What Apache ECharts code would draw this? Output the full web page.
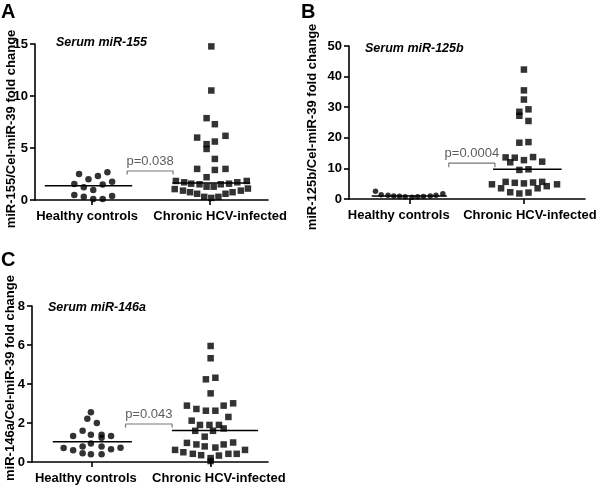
<!DOCTYPE html>
<html>
<head>
<meta charset="utf-8">
<script src="https://cdn.jsdelivr.net/npm/echarts@6/dist/echarts.min.js"></script>
<style>
  html, body { margin: 0; padding: 0; background: #fff; }
  #main { width: 600px; height: 489px; }
</style>
</head>
<body>
<div id="main"></div>
<script>
// group labels and panel texts
var categories = ['Healthy controls', 'Chronic HCV-infected'];
var panelLetters = ['A', 'B', 'C'];
var panelTitles = ['Serum miR-155', 'Serum miR-125b', 'Serum miR-146a'];
var yNames = ['miR-155/Cel-miR-39 fold change', 'miR-125b/Cel-miR-39 fold change', 'miR-146a/Cel-miR-39 fold change'];
var pValues = ['p=0.038', 'p=0.0004', 'p=0.043'];

// y axis ranges [max, interval]
var yRangeA = [15, 5];
var yRangeB = [50, 10];
var yRangeC = [8, 2];

// points: [jitter position (1 = healthy, 2 = HCV), fold change]
var healthyA = [[0.89, 2.5], [0.97, 2.0], [1.05, 2.3], [1.13, 2.67], [0.85, 1.54], [1.17, 1.76], [0.93, 1.22],
  [1.09, 1.5], [1.01, 0.96], [0.85, 0.48], [0.93, 0.32], [1.01, 0.1], [1.09, 0.1], [1.17, 0.39]];
var chronicA = [[2.01, 14.77], [2.01, 10.53], [1.97, 7.87], [2.04, 7.29], [1.89, 6.0], [2.13, 6.17], [1.97, 5.37],
  [2.04, 5.62], [1.97, 4.91], [2.04, 3.95], [1.89, 2.99], [2.04, 2.89], [2.13, 2.99], [1.97, 2.19],
  [1.71, 1.83], [1.78, 1.7], [1.84, 1.57], [1.91, 1.51], [1.97, 1.28], [2.03, 1.28], [2.09, 1.51], [2.16, 1.57],
  [2.23, 1.7], [2.31, 1.83],
  [1.70, 1.05], [1.77, 0.9], [1.83, 0.75], [1.89, 0.6], [1.95, 0.3], [2.01, 0.2], [2.07, 0.3], [2.13, 0.6],
  [2.19, 0.75], [2.26, 0.9], [2.32, 1.1]];

var healthyB = [[0.70, 2.5], [0.75, 1.4], [0.81, 1.2], [0.86, 1.0], [0.91, 0.9], [0.96, 0.7], [1.02, 0.6],
  [1.07, 0.7], [1.12, 0.8], [1.18, 1.0], [1.23, 1.2], [1.29, 1.7]];
var chronicB = [[2.0, 42.3], [2.0, 35.5], [2.0, 32.5], [1.96, 28.5], [1.96, 27.2], [2.04, 29.3], [2.04, 25.5],
  [1.96, 18.4], [2.04, 18.6],
  [1.84, 13.6], [1.88, 12.0], [1.92, 13.5], [2.0, 12.7], [2.08, 13.7], [2.16, 12.2],
  [1.96, 9.5], [2.04, 9.7],
  [1.72, 4.8], [1.80, 3.5], [1.84, 5.6], [1.88, 2.2], [1.92, 5.3], [2.0, 5.1], [2.04, 2.1], [2.08, 5.4],
  [2.12, 3.5], [2.16, 5.6], [2.20, 4.2], [2.29, 4.8], [1.96, 1.8]];

var healthyC = [[0.99, 2.55], [0.96, 2.22], [1.04, 2.0], [0.92, 1.6], [0.99, 1.4], [0.84, 1.33], [1.08, 1.4],
  [1.08, 1.25], [1.16, 1.33], [0.76, 0.72], [0.84, 0.6], [0.92, 0.8], [0.99, 0.95], [1.08, 0.8], [1.16, 0.65],
  [1.24, 0.73], [0.92, 0.45], [0.99, 0.4], [1.08, 0.4]];
var chronicC = [[2.0, 5.95], [2.0, 5.32], [1.96, 4.24], [2.04, 4.32], [2.0, 3.52],
  [1.80, 2.89], [1.88, 2.72], [1.96, 2.63], [2.04, 2.63], [2.11, 2.89], [2.19, 3.01], [2.15, 2.31], [1.84, 2.12],
  [1.91, 1.9], [1.99, 1.9], [2.07, 1.9], [1.87, 1.6], [2.02, 1.6], [2.11, 1.72], [1.95, 1.3],
  [1.80, 0.98], [1.88, 0.9], [1.95, 0.8], [2.04, 0.74], [2.11, 0.9], [2.19, 1.0],
  [1.70, 0.62], [1.77, 0.5], [1.85, 0.42], [1.92, 0.35], [2.0, 0.2], [2.07, 0.33], [2.15, 0.42], [2.22, 0.42],
  [2.29, 0.62], [2.0, 0.05]];

// horizontal group lines: [healthy, HCV]
var centerA = [1.38, 1.64];
var centerB = [1.0, 9.7];
var centerC = [1.04, 1.62];

var FONT = 'Liberation Sans, Arial, Helvetica, sans-serif';
var myChart = echarts.init(document.getElementById('main'));

// layout per panel
var panels = [
  { grid: { left: 35, top: 44, width: 233, height: 156 }, xr: [0.517, 2.49], lab: [0.958, 2.085],
    lines: [[0.60, 1.34], [1.68, 2.34]], br: [1.297, 1.686], brTop: 2.79, brLeg: 0.34,
    h: healthyA, c: chronicA, ctr: centerA, yr: yRangeA, hSize: 6.5 },
  { grid: { left: 349, top: 46, width: 236, height: 153 }, xr: [0.468, 2.535], lab: [0.904, 2.053],
    lines: [[0.667, 1.325], [1.73, 2.33]], br: [1.342, 1.746], brTop: 11.7, brLeg: 1.3,
    h: healthyB, c: chronicB, ctr: centerB, yr: yRangeB, hSize: 5.5 },
  { grid: { left: 32, top: 306, width: 236, height: 156 }, xr: [0.493, 2.484], lab: [0.947, 2.07],
    lines: [[0.668, 1.336], [1.673, 2.40]], br: [1.282, 1.675], brTop: 1.95, brLeg: 0.18,
    h: healthyC, c: chronicC, ctr: centerC, yr: yRangeC, hSize: 6.5 }
];

var grids = [], xAxes = [], yAxes = [], series = [];
panels.forEach(function (p, i) {
  grids.push(p.grid);
  xAxes.push({
    type: 'value', gridIndex: i, min: p.xr[0], max: p.xr[1],
    axisLine: { show: true, onZero: false, lineStyle: { color: '#000', width: 1.6 } },
    axisTick: { show: true, customValues: [1, 2], length: 5, lineStyle: { color: '#000', width: 1.6 } },
    axisLabel: {
      show: true, customValues: p.lab, margin: 10,
      color: '#000', fontWeight: 'bold', fontSize: 13, fontFamily: FONT,
      formatter: function (v) { return v < 1.5 ? categories[0] : categories[1]; }
    },
    splitLine: { show: false }
  });
  yAxes.push({
    type: 'value', gridIndex: i, min: 0, max: p.yr[0], interval: p.yr[1],
    axisLine: { show: true, lineStyle: { color: '#000', width: 1.6 } },
    axisTick: { show: true, length: 5, lineStyle: { color: '#000', width: 1.6 } },
    axisLabel: { color: '#000', fontWeight: 'bold', fontSize: 13, fontFamily: FONT, margin: 7 },
    splitLine: { show: false }
  });
  // group center lines
  p.ctr.forEach(function (v, k) {
    series.push({
      type: 'line', xAxisIndex: i, yAxisIndex: i, symbol: 'none', silent: true, z: 3,
      lineStyle: { color: '#000', width: 1.5 },
      data: [[p.lines[k][0], v], [p.lines[k][1], v]]
    });
  });
  // significance bracket
  series.push({
    type: 'line', xAxisIndex: i, yAxisIndex: i, symbol: 'none', silent: true,
    lineStyle: { color: '#777', width: 1.2 },
    data: [[p.br[0], p.brTop - p.brLeg], [p.br[0], p.brTop], [p.br[1], p.brTop], [p.br[1], p.brTop - p.brLeg]]
  });
  series.push({
    type: 'scatter', xAxisIndex: i, yAxisIndex: i, symbolSize: 1, silent: true,
    itemStyle: { color: 'rgba(0,0,0,0)' },
    label: { show: true, position: 'top', distance: 3, color: '#333', fontSize: 13, fontFamily: FONT,
      formatter: pValues[i] },
    data: [[(p.br[0] + p.br[1]) / 2, p.brTop]]
  });
  series.push({
    type: 'scatter', xAxisIndex: i, yAxisIndex: i, symbol: 'circle', symbolSize: p.hSize, z: 5,
    itemStyle: { color: '#000' }, data: p.h
  });
  series.push({
    type: 'scatter', xAxisIndex: i, yAxisIndex: i, symbol: 'rect', symbolSize: 6.5, z: 5,
    itemStyle: { color: '#000' }, data: p.c
  });
});

function txt(x, y, text, font, rot) {
  return {
    type: 'text', x: x, y: y, rotation: rot || 0,
    style: { text: text, font: font, fill: '#000', textAlign: rot ? 'center' : 'left', textVerticalAlign: 'middle' }
  };
}

myChart.setOption({
  animation: false,
  grid: grids,
  xAxis: xAxes,
  yAxis: yAxes,
  series: series,
  graphic: [
    txt(1, 12, panelLetters[0], 'bold 20px ' + FONT),
    txt(301, 12, panelLetters[1], 'bold 20px ' + FONT),
    txt(1, 260, panelLetters[2], 'bold 20px ' + FONT),
    txt(56, 43, panelTitles[0], 'italic bold 12.5px ' + FONT),
    txt(365, 49, panelTitles[1], 'italic bold 12.5px ' + FONT),
    txt(48, 308, panelTitles[2], 'italic bold 12.5px ' + FONT),
    txt(11, 129, yNames[0], 'bold 13px ' + FONT, Math.PI / 2),
    txt(312, 127, yNames[1], 'bold 13px ' + FONT, Math.PI / 2),
    txt(10, 378, yNames[2], 'bold 13px ' + FONT, Math.PI / 2)
  ]
});
</script>
</body>
</html>
